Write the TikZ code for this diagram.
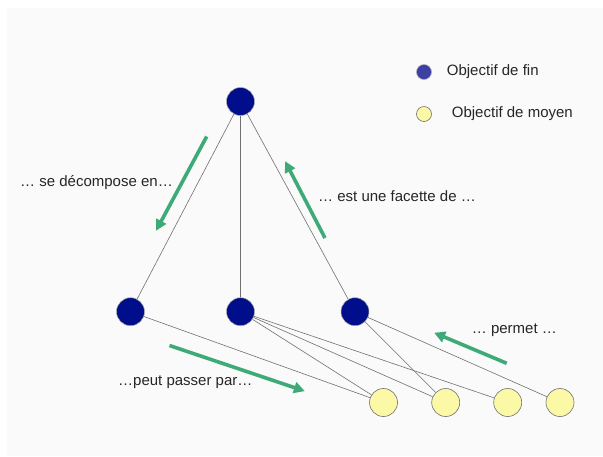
\documentclass[tikz,border=0pt]{standalone}
\usepackage{fontspec}
\setmainfont{Liberation Sans}
\usetikzlibrary{arrows.meta}
\definecolor{bgc}{HTML}{FAFAFA}
\definecolor{navy}{HTML}{000E8C}
\definecolor{legblue}{HTML}{3C40A4}
\definecolor{pale}{HTML}{FBF8A6}
\definecolor{arr}{HTML}{3DAA78}
\definecolor{edgec}{HTML}{707070}
\begin{document}
\begin{tikzpicture}[x=1pt,y=-1pt,
  endgoal/.style={circle,fill=navy,draw=edgec!60,line width=0.5pt,minimum size=28pt,inner sep=0pt},
  meangoal/.style={circle,fill=pale,draw=edgec,line width=0.6pt,minimum size=28pt,inner sep=0pt},
  link/.style={draw=edgec,line width=0.6pt},
  garrow/.style={draw=arr,line width=3.6pt,-{Triangle[length=11pt,width=11pt]},shorten >=-2pt},
  lbl/.style={anchor=west,font=\fontsize{15}{18}\selectfont,text=black!85,inner sep=0pt}]
\useasboundingbox (0,0) rectangle (603,456);
\fill[bgc] (7,8) rectangle (603,456);
% nodes
\node[endgoal] (t) at (240.5,101.5) {};
\node[endgoal] (m1) at (130.5,311.7) {};
\node[endgoal] (m2) at (240.5,311.7) {};
\node[endgoal] (m3) at (355,311.7) {};
\node[meangoal] (y1) at (383.5,402.5) {};
\node[meangoal] (y2) at (445.7,402.5) {};
\node[meangoal] (y3) at (507.7,402.5) {};
\node[meangoal] (y4) at (560,402.5) {};
% links
\draw[link] (t) -- (m1);
\draw[link] (t) -- (m2);
\draw[link] (t) -- (m3);
\draw[link] (m1) -- (y1);
\draw[link] (m2) -- (y1);
\draw[link] (m2) -- (y2);
\draw[link] (m2) -- (y3);
\draw[link] (m3) -- (y2);
\draw[link] (m3) -- (y4);
% green arrows
\coordinate (a1s) at (206.7,136.5);
\coordinate (a1e) at (157,229);
\coordinate (a2s) at (325,238);
\coordinate (a2e) at (286,163);
\coordinate (a3s) at (169.5,345.5);
\coordinate (a3e) at (303,390.5);
\coordinate (a4s) at (506.7,363.3);
\coordinate (a4e) at (436,333.5);
\draw[garrow] (a1s) -- (a1e);
\draw[garrow] (a2s) -- (a2e);
\draw[garrow] (a3s) -- (a3e);
\draw[garrow] (a4s) -- (a4e);
% labels
\node[lbl] (l1) at (20,182.5) {… se décompose en…};
\node[lbl] (l2) at (318,196) {… est une facette de …};
\node[lbl] (l3) at (118,382) {…peut passer par…};
\node[lbl] (l4) at (471.7,330) {… permet …};
% legend
\node[circle,fill=legblue,draw=edgec!60,line width=0.5pt,minimum size=15pt,inner sep=0pt] (lb) at (424,72) {};
\node[circle,fill=pale,draw=edgec,line width=0.6pt,minimum size=15pt,inner sep=0pt] (ly) at (424,114) {};
\node[lbl] (lt1) at (446.7,72) {Objectif de fin};
\node[lbl] (lt2) at (451.7,113.5) {Objectif de moyen};
\end{tikzpicture}
\end{document}
